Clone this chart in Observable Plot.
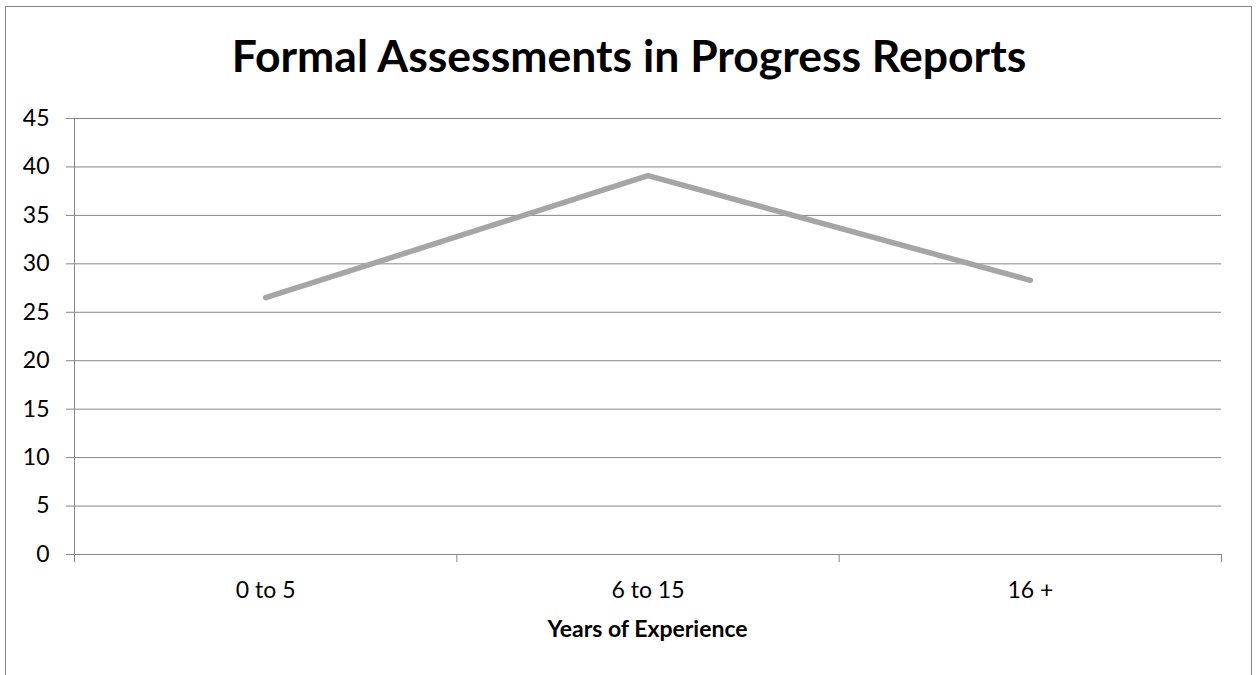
<!DOCTYPE html>
<html>
<head>
<meta charset="utf-8">
<script src="https://cdn.jsdelivr.net/npm/d3@7"></script>
<script src="https://cdn.jsdelivr.net/npm/@observablehq/plot@0.6"></script>
<style>
  html, body { margin: 0; padding: 0; background: #fff; }
  #wrap { position: relative; width: 1256px; height: 675px; overflow: hidden; font-family: Lato, "Open Sans", sans-serif; }
  #border { position: absolute; left: 5px; top: 6px; width: 1247px; height: 720px; border: 1px solid #868686; box-sizing: border-box; }
  #title { position: absolute; left: 0; width: 1258px; top: 33px; text-align: center; font-weight: bold; font-size: 44.5px; line-height: 1; color: #000; }
  #xtitle { position: absolute; left: 74px; width: 1147px; top: 617px; text-align: center; font-weight: bold; font-size: 23px; line-height: 1; color: #000; }
  #chart { position: absolute; left: 0; top: 0; }
</style>
</head>
<body>
<div id="wrap">
  <div id="border"></div>
  <div id="chart"></div>
  <div id="title">Formal Assessments in Progress Reports</div>
  <div id="xtitle">Years of Experience</div>
</div>
<script>
const categories = ["0 to 5", "6 to 15", "16 +"];
const values = [26.5, 39.1, 28.3];
const yTicks = [0, 5, 10, 15, 20, 25, 30, 35, 40, 45];
const xBoundaries = [0, 1, 2, 3];

const data = categories.map((c, i) => ({pos: i + 0.5, cat: c, value: values[i]}));
const labelPos = categories.map((c, i) => i + 0.5);

const grid = "#868686";
const chart = Plot.plot({
  width: 1256,
  height: 675,
  marginLeft: 74,
  marginRight: 35,
  marginTop: 118,
  marginBottom: 121,
  style: {fontFamily: "Lato, 'Open Sans', sans-serif", background: "transparent", color: "#000"},
  x: {domain: [0, 3]},
  y: {domain: [0, 45]},
  marks: [
    Plot.gridY(yTicks, {stroke: grid, strokeOpacity: 1, strokeWidth: 1}),
    Plot.axisY(yTicks, {tickSize: 8, tickPadding: 17, stroke: grid, fontSize: 23, label: null, tickFormat: d => String(d), fill: "#000"}),
    Plot.axisX(xBoundaries, {tickSize: 8, tickFormat: () => "", stroke: grid, label: null}),
    Plot.axisX(labelPos, {tickSize: 0, tickPadding: 27, fontSize: 23, tickFormat: d => categories[d - 0.5], label: null, fill: "#000"}),
    Plot.ruleX([0], {stroke: grid, strokeWidth: 1}),
    Plot.ruleY([0], {stroke: grid, strokeWidth: 1}),
    Plot.line(data, {x: "pos", y: "value", stroke: "#A5A5A5", strokeWidth: 5.5, strokeLinecap: "round", strokeLinejoin: "round"})
  ]
});
document.getElementById("chart").appendChild(chart);
</script>
</body>
</html>
